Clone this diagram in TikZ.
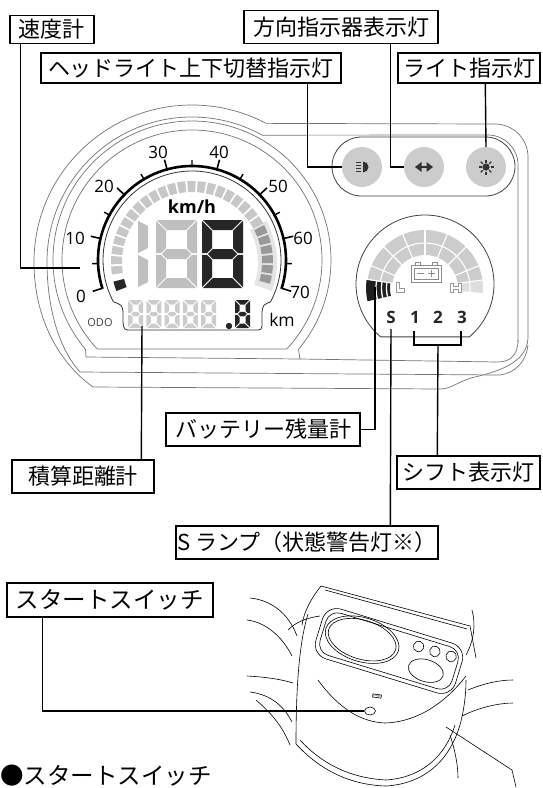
\documentclass[tikz,border=0pt]{standalone}
\usepackage{fontspec}
\setmainfont{Open Sans}
\newfontfamily\jpfont{Noto Sans CJK JP}
\usetikzlibrary{calc,shapes.geometric}

% seven-segment digits; x, y = top-left corner (y measured downwards)
\newcommand\SegEight[6]{%
\begin{scope}[shift={(#1,-#2)},yscale=-1]
 \def\SWd{#3}\def\SHt{#4}\def\STk{#5}\def\SGp{0.9}
 \pgfmathsetmacro\SMd{#4/2}
 \fill[#6] (\SGp,0) -- ({\SWd-\SGp},0) -- ({\SWd-\STk-\SGp},\STk) -- ({\STk+\SGp},\STk) -- cycle;
 \fill[#6] (\SGp,\SHt) -- ({\SWd-\SGp},\SHt) -- ({\SWd-\STk-\SGp},{\SHt-\STk}) -- ({\STk+\SGp},{\SHt-\STk}) -- cycle;
 \fill[#6] (0,\SGp) -- (\STk,{\STk+\SGp}) -- (\STk,{\SMd-\STk/2-\SGp}) -- ({\STk/2},{\SMd-\SGp}) -- (0,{\SMd-\SGp}) -- cycle;
 \fill[#6] (0,{\SMd+\SGp}) -- ({\STk/2},{\SMd+\SGp}) -- (\STk,{\SMd+\STk/2+\SGp}) -- (\STk,{\SHt-\STk-\SGp}) -- (0,{\SHt-\SGp}) -- cycle;
 \fill[#6] (\SWd,\SGp) -- ({\SWd-\STk},{\STk+\SGp}) -- ({\SWd-\STk},{\SMd-\STk/2-\SGp}) -- ({\SWd-\STk/2},{\SMd-\SGp}) -- (\SWd,{\SMd-\SGp}) -- cycle;
 \fill[#6] (\SWd,{\SMd+\SGp}) -- ({\SWd-\STk/2},{\SMd+\SGp}) -- ({\SWd-\STk},{\SMd+\STk/2+\SGp}) -- ({\SWd-\STk},{\SHt-\STk-\SGp}) -- (\SWd,{\SHt-\SGp}) -- cycle;
 \fill[#6] ({\STk/2+\SGp},\SMd) -- ({\STk+\SGp},{\SMd-\STk/2}) -- ({\SWd-\STk-\SGp},{\SMd-\STk/2}) -- ({\SWd-\STk/2-\SGp},\SMd) -- ({\SWd-\STk-\SGp},{\SMd+\STk/2}) -- ({\STk+\SGp},{\SMd+\STk/2}) -- cycle;
\end{scope}}
\newcommand\SegOne[5]{%
\begin{scope}[shift={(#1,-#2)},yscale=-1]
 \def\SHt{#3}\def\STk{#4}\def\SGp{0.9}
 \pgfmathsetmacro\SMd{#3/2}
 \fill[#5] (0,\SGp) -- (\STk,{\STk/2+\SGp}) -- (\STk,{\SMd-\STk/2-\SGp}) -- (0,{\SMd-\SGp}) -- cycle;
 \fill[#5] (0,{\SMd+\SGp}) -- (\STk,{\SMd+\STk/2+\SGp}) -- (\STk,{\SHt-\STk/2-\SGp}) -- (0,{\SHt-\SGp}) -- cycle;
\end{scope}}

\begin{document}
\begin{tikzpicture}[x=1pt,y=1pt,
  lbl/.style={draw,line width=1.4pt,inner sep=0pt,font=\jpfont\fontsize{22}{24}\selectfont},
  lead/.style={line width=1.4pt},
  shell/.style={draw=black!55,line width=0.7pt},
  lcdline/.style={draw=black!80,line width=0.8pt},
  lampring/.style={draw=black!75,line width=0.8pt},
  lamp/.style={fill=black!20},
  icon/.style={fill=black!80},
  dialnum/.style={font=\fontsize{17}{17}\selectfont,inner sep=0pt},
  gearnum/.style={font=\bfseries\fontsize{17}{17}\selectfont,inner sep=0pt,text=black!85},
  sketch/.style={line width=0.6pt},
]
\useasboundingbox (0,0) rectangle (543,-788);

% ---------------- meter housing ----------------
\coordinate (C) at (192,-260);
% outermost shell
\draw[shell] (93,-387) .. controls (62,-365) and (34,-322) .. (34,-262)
  arc[start angle=180,end angle=62,x radius=158,y radius=157]
  -- (495,-124) arc[start angle=90,end angle=0,radius=33]
  -- (528,-338) .. controls (527,-360) and (505,-370) .. (475,-377)
  .. controls (458,-381) and (452,-389) .. (440,-389) -- cycle;
% second shell
\draw[shell] (80,-372) .. controls (60,-350) and (47,-310) .. (47,-262)
  arc[start angle=180,end angle=61,x radius=145,y radius=145]
  -- (488,-135) arc[start angle=90,end angle=0,radius=30]
  -- (518,-342);
\draw[shell] (80,-372) -- (500,-375) .. controls (515,-373) and (526,-362) .. (528,-345);
% bezel around the dial
\draw[shell] (86,-357) -- ($(C)+(220:139)$) arc[start angle=220,end angle=-40,radius=139]
  -- (300,-359) -- (498,-362) .. controls (510,-362) and (518,-355) .. (518,-340);
\draw[shell] (86,-357) -- (300,-359);
% dial face
\draw[shell] ($(C)+(-43.2:130)$) arc[start angle=-43.2,end angle=223.2,radius=130] -- cycle;

% LCD window outline with odometer bay
\draw[lcdline] ($(C)+(-28:89)$) arc[start angle=-28,end angle=208,radius=89]
  .. controls (122,-305) .. (123,-312) -- (123,-322) .. controls (124,-330) .. (132,-330)
  -- (254,-330) .. controls (262,-330) .. (262,-322) -- (262,-312) .. controls (263,-305) .. cycle;

% bar graph
\coordinate (C2) at (192,-262);
\fill[black!10] ($(C2)+(29:66)$) arc[start angle=29,end angle=-20,radius=66]
  -- ($(C2)+(-20:85)$) arc[start angle=-20,end angle=29,radius=85] -- cycle;
\foreach \i in {0,...,27}{
  \pgfmathsetmacro\aA{189-\i*7.36}
  \pgfmathsetmacro\aB{\aA-5.9}
  \pgfmathsetmacro\shade{\i>21 ? 40 : 22}
  \fill[black!\shade] ($(C2)+(\aA:70)$) arc[start angle=\aA,end angle=\aB,radius=70]
    -- ($(C2)+(\aB:81)$) arc[start angle=\aB,end angle=\aA,radius=81] -- cycle;
}
\fill[black!85] ($(C2)+(201:70)$) arc[start angle=201,end angle=194,radius=70]
  -- ($(C2)+(194:81)$) arc[start angle=194,end angle=201,radius=81] -- cycle;

% speed scale
\draw[line width=2.6pt] ($(C)+(197.5:94)$) arc[start angle=197.5,end angle=-17.5,radius=94];
\foreach \v in {0,10,...,70}
  \draw[line width=1.6pt] ($(C)+({197.5-3.0714*\v}:93)$) -- ($(C)+({197.5-3.0714*\v}:104)$);
\foreach \v in {5,15,...,65}
  \draw[line width=1.4pt] ($(C)+({197.5-3.0714*\v}:93)$) -- ($(C)+({197.5-3.0714*\v}:100)$);
\node[dialnum] (n0) at (81,-296) {0};
\node[dialnum] (n10) at (75,-238) {10};
\node[dialnum] (n20) at (104,-186) {20};
\node[dialnum] (n30) at (158,-152) {30};
\node[dialnum] (n40) at (219,-152) {40};
\node[dialnum] (n50) at (278,-186) {50};
\node[dialnum] (n60) at (303,-238) {60};
\node[dialnum] (n70) at (300,-292) {70};

\node[font=\bfseries\fontsize{18}{18}\selectfont,inner sep=0pt] (kmh) at (192,-207) {km/h};

% speed digits
\SegOne{138}{220}{68}{10}{black!25}
\SegEight{156}{220}{41}{68}{10}{black!25}
\SegEight{202}{220}{41}{68}{10}{black!85}

% odometer
\foreach \k in {0,...,4}
  \SegEight{128+\k*18.3}{300}{15}{28}{4.5}{black!20}
\fill[black!85] (229,-326) circle (2.8);
\SegEight{235}{300}{15}{28}{4.5}{black!85}
\node[font=\fontsize{11}{11}\selectfont,text=black!75,inner sep=0pt] (odo) at (100,-323) {ODO};
\node[font=\fontsize{17.5}{17.5}\selectfont,inner sep=0pt] (km) at (282,-320) {km};

% ---------------- indicator lamps ----------------
\draw[lampring,rounded corners=29.5pt] (332,-137) rectangle (515,-196);
\fill[lamp] (362,-167) circle (20);
\fill[lamp] (424,-167) circle (20);
\fill[lamp] (486,-167) circle (20);
\node[circle,minimum size=40pt,inner sep=0pt] (hlamp) at (362,-167) {};
\node[circle,minimum size=40pt,inner sep=0pt] (tlamp) at (424,-167) {};
\node[circle,minimum size=40pt,inner sep=0pt] (llamp) at (486,-167) {};
% high/low beam symbol
\fill[icon] (363,-161.5) arc[start angle=90,end angle=-90,radius=5.5] -- cycle;
\foreach \yy in {-162.5,-165.5,-168.5,-171.5}
  \fill[icon] (355.5,\yy-0.9) rectangle (361,\yy+0.9);
% turn signal symbol
\fill[icon] (415,-167) -- (421.5,-162) -- (421.5,-172) -- cycle;
\fill[icon] (433,-167) -- (426.5,-162) -- (426.5,-172) -- cycle;
\fill[icon] (421,-165.8) rectangle (427,-168.2);
% light symbol
\fill[icon] (486,-167) circle (3.6);
\foreach \r in {0,45,...,315}
  \draw[black!80,line width=1.1pt] ($(486,-167)+(\r:4.5)$) -- ($(486,-167)+(\r:7.5)$);

% ---------------- battery / gear display ----------------
\coordinate (G) at (425,-284);
\coordinate (G2) at (425,-288);
\draw[lampring] ($(G)+(-50:69)$) arc[start angle=-50,end angle=230,radius=69] -- cycle;
\fill[black!20] ($(G2)+(171:58)$) arc[start angle=171,end angle=8,radius=58]
  -- ($(G2)+(8:33)$) arc[start angle=8,end angle=171,radius=33] -- cycle;
\fill[black!13] ($(G2)+(8:58)$) arc[start angle=8,end angle=-5,radius=58]
  -- ($(G2)+(-5:33)$) arc[start angle=-5,end angle=8,radius=33] -- cycle;
\fill[black!88] ($(G2)+(193:59)$) arc[start angle=193,end angle=172,radius=59]
  -- ($(G2)+(172:35)$) arc[start angle=172,end angle=193,radius=35] -- cycle;
\foreach \a in {157.5,135,112.5,90,67.5,45,22.5,8,171.5}
  \draw[white,line width=1.1pt] ($(G2)+(\a:32)$) -- ($(G2)+(\a:59)$);
\draw[white,line width=1.1pt] ($(G2)+(-6:45)$) arc[start angle=-6,end angle=171,radius=45];
\foreach \rr in {49,43.5,38.5}
  \draw[white,line width=1.3pt] ($(G2)+(194:\rr)$) arc[start angle=194,end angle=171,radius=\rr];
% battery symbol
\begin{scope}[draw=black!45,line width=0.9pt]
  \draw (415,-262) rectangle (420,-265);
  \draw (432,-262) rectangle (437,-265);
  \draw[fill=white] (411,-265) rectangle (441,-282);
  \draw (414,-268) rectangle (438,-279);
  \draw (417,-273.5) -- (424,-273.5);
  \draw (428,-273.5) -- (435,-273.5) (431.5,-270) -- (431.5,-277);
\end{scope}
% L and H marks
\draw[black!40,line width=0.7pt,fill=white] (396,-282) -- (399.5,-282) -- (399.5,-288.5) -- (404,-288.5) -- (404,-292) -- (396,-292) -- cycle;
\draw[black!40,line width=0.7pt,fill=white] (450,-283) -- (453,-283) -- (453,-286) -- (458,-286) -- (458,-283) -- (461,-283)
  -- (461,-292) -- (458,-292) -- (458,-289) -- (453,-289) -- (453,-292) -- (450,-292) -- cycle;
\node[gearnum] (gS) at (391,-317) {S};
\node[gearnum] (g1) at (415,-317) {1};
\node[gearnum] (g2) at (438,-317) {2};
\node[gearnum] (g3) at (462,-317) {3};

% ---------------- callout boxes ----------------
\node[lbl,minimum width=84pt,minimum height=28pt] (spd) at (52,-29.5) {速度計};
\node[lbl,minimum width=194pt,minimum height=33pt] (turn) at (341,-27) {方向指示器表示灯};
\node[lbl,minimum width=300pt,minimum height=30pt] (beam) at (191,-68) {ヘッドライト上下切替指示灯};
\node[lbl,minimum width=142pt,minimum height=30pt] (light) at (469,-68) {ライト指示灯};
\node[lbl,minimum width=194pt,minimum height=33pt] (bat) at (263,-429.5) {バッテリー残量計};
\node[lbl,minimum width=142pt,minimum height=33pt] (odobox) at (83,-476.5) {積算距離計};
\node[lbl,minimum width=143pt,minimum height=33pt] (shift) at (468.5,-472.5) {シフト表示灯};
\node[lbl,minimum width=262pt,minimum height=33pt] (slamp) at (307,-542.5) {S ランプ（状態警告灯※）};

% leader end points
\coordinate (spdT) at (80,-268);
\coordinate (odoT) at (142,-326);
\coordinate (batT) at (375,-287);
\coordinate (sT) at (391,-329);
\coordinate (b1) at (414,-331);
\coordinate (b3) at (461,-331);

\draw[lead] ($(spd.south west)+(11,0)$) |- (spdT);
\draw[lead] ($(beam.south west)+(267,0)$) |- (hlamp.west);
\draw[lead] ($(turn.south west)+(147,0)$) |- (tlamp.west);
\draw[lead] ($(light.south west)+(88,0)$) -- (llamp.north);
\draw[lead] ($(odobox.north west)+(130,0)$) -- (odoT);
\draw[lead] (bat.east) -| (batT);
\draw[lead] ($(slamp.north west)+(215,0)$) -- (sT);
\draw[lead] (b1) -- (414,-345) -- (461,-345) -- (b3);
\draw[lead] (438,-345) -- ($(shift.north west)+(41,0)$);

% ---------------- start switch sketch ----------------
\begin{scope}[sketch]
  % handlebar grips and side covers
  \draw (250,-598) .. controls (270,-600) and (288,-612) .. (297,-636);
  \draw (247,-620) .. controls (265,-622) and (282,-636) .. (292,-656);
  \draw (288,-630) .. controls (296,-622) and (306,-618) .. (320,-616);
  \draw (247,-676) .. controls (265,-677) and (280,-679) .. (293,-683);
  \draw (250,-692) .. controls (266,-694) and (282,-702) .. (292,-722);
  \draw (256,-700) .. controls (270,-712) and (282,-725) .. (290,-745);
  \draw (468,-690) .. controls (485,-683) and (500,-680) .. (513,-680);
  \draw (462,-716) .. controls (480,-707) and (500,-703) .. (513,-703);
  \draw (446,-727) -- (512,-770) -- (516,-787);
  \draw (450,-735) .. controls (455,-750) and (458,-765) .. (458,-778);
  \draw (466,-655) .. controls (474,-640) and (476,-625) .. (472,-610);
  % visor
  \draw (321,-586) -- (470,-626) -- (476,-658);
  \draw (325,-590) -- (467,-629);
  \draw (321,-586) .. controls (310,-600) and (304,-612) .. (302,-625);
  % body
  \draw (308,-614) .. controls (300,-640) and (296,-680) .. (296,-744);
  \draw (296,-744) .. controls (320,-770) and (350,-785) .. (386,-786)
    .. controls (420,-784) and (448,-765) .. (460,-725) .. controls (464,-710) and (466,-695) .. (466,-680);
  \draw (300,-740) .. controls (322,-764) and (350,-778) .. (386,-780)
    .. controls (418,-778) and (444,-760) .. (455,-725);
  \draw (318,-680) .. controls (340,-710) and (362,-722) .. (385,-723)
    .. controls (418,-722) and (446,-702) .. (466,-676);
  % instrument panel
  \begin{scope}[shift={(389,-651)},rotate=-17]
    \draw[rounded corners=15pt] (-73,-26) rectangle (73,26);
    \draw[rounded corners=12pt] (-69,-22) rectangle (69,22);
    \draw (-29,3) ellipse (38 and 22);
    \draw (-29,3) ellipse (35 and 19.5);
    \draw (27,13) circle (5.3);
    \draw (44,13) circle (5.3);
    \draw (61,13) circle (5.3);
    \draw (41,-8) ellipse (18 and 11);
  \end{scope}
  % start button
  \node[draw,inner sep=0.6pt,font=\fontsize{2.6}{3}\selectfont,rotate=-8] (startlbl) at (377,-696) {START};
  \node[draw,ellipse,minimum width=11pt,minimum height=8pt,inner sep=0pt] (startbtn) at (370,-711) {};
\end{scope}

\node[lbl,font=\jpfont\fontsize{23.5}{26}\selectfont,minimum width=206pt,minimum height=34pt] (ssw) at (110,-600) {スタートスイッチ};
\draw[lead] ($(ssw.south west)+(36,0)$) |- (startbtn.west);

\node[anchor=west,inner sep=0pt,font=\jpfont\fontsize{23.5}{26}\selectfont] (caption) at (0,-776) {●スタートスイッチ};

\end{tikzpicture}
\end{document}
